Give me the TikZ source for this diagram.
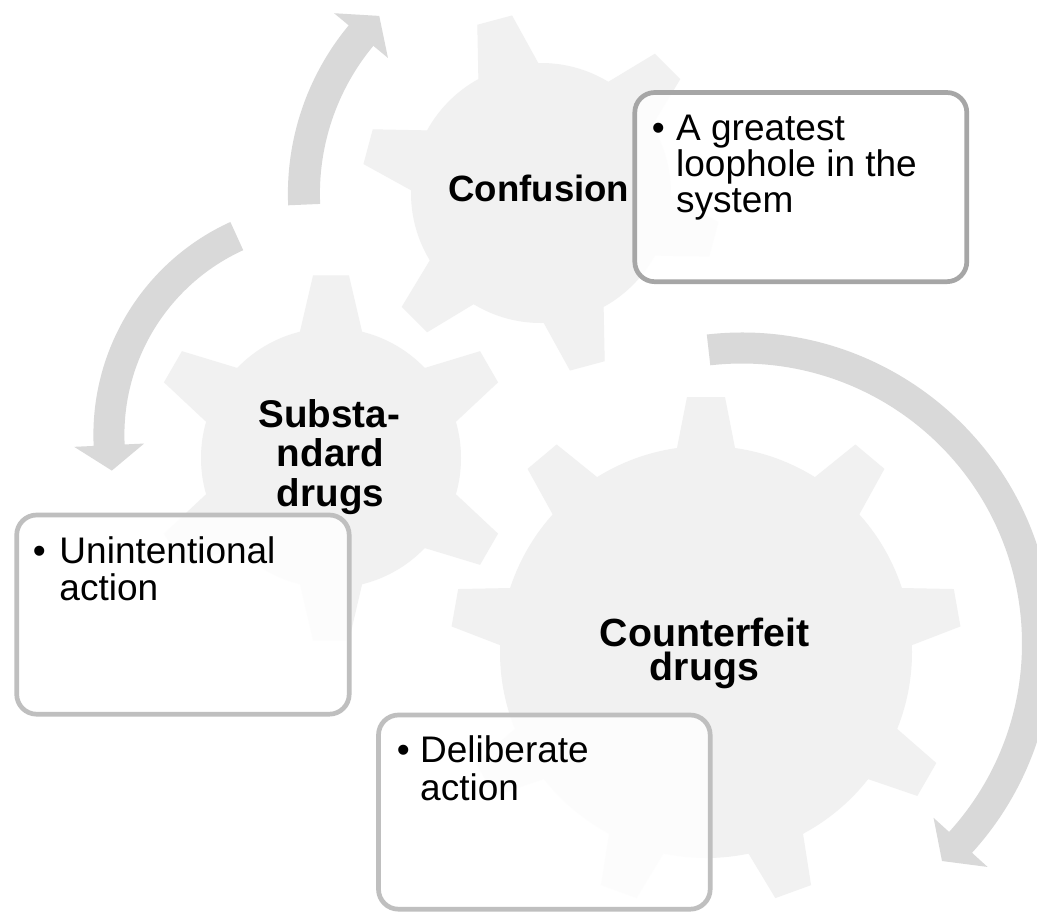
\documentclass[tikz,border=0pt]{standalone}
\usepackage{fontspec}
\setmainfont{Liberation Sans}
\definecolor{gearfill}{RGB}{241,241,241}
\definecolor{arrowfill}{RGB}{217,217,217}
\definecolor{boxdark}{RGB}{166,166,166}
\definecolor{boxlight}{RGB}{191,191,191}
\tikzset{
  gearshape/.style={fill=gearfill},
  arrowshape/.style={fill=arrowfill},
  txtbox/.style={draw=#1, line width=4.7bp, rounded corners=20bp, fill=white, fill opacity=0.85, inner sep=0, outer sep=0},
  gearlabel/.style={font=\fontsize{#1 bp}{#1 bp}\selectfont\bfseries, inner sep=0, anchor=base},
  bullettext/.style={font=\fontsize{37bp}{36bp}\selectfont, inner sep=0, anchor=base west},
  bulletmark/.style={font=\fontsize{37bp}{36bp}\selectfont, inner sep=0, anchor=base},
}
\begin{document}
\begin{tikzpicture}[x=1bp,y=-1bp]
\path[use as bounding box, clip] (0,0) rectangle (1037,912);
\fill[white] (0,0) rectangle (1037,912);

% ---- gears ----
% Counterfeit (large, 9 teeth)
\begin{scope}[shift={(706,652)}]
  \fill[gearshape] (0,0) circle[radius=206];
  \foreach \a in {30,70,...,350}
    \fill[gearshape] ({\a-10.15}:186.9) -- ({\a-4.26}:255.7) -- ({\a+4.26}:255.7) -- ({\a+10.15}:186.9) -- cycle;
\end{scope}
% Substandard (6 teeth)
\begin{scope}[shift={(331,458)}]
  \fill[gearshape] (0,0) circle[radius=130];
  \foreach \a in {30,90,...,330}
    \fill[gearshape] ({\a-18.6}:112.1) -- ({\a-5.63}:183.4) -- ({\a+5.63}:183.4) -- ({\a+18.6}:112.1) -- cycle;
\end{scope}
% Confusion (6 teeth)
\begin{scope}[shift={(541,193)}]
  \fill[gearshape] (0,0) circle[radius=130];
  \foreach \a in {15,75,...,315}
    \fill[gearshape] ({\a-18.69}:112.2) -- ({\a-5.74}:179.9) -- ({\a+5.74}:179.9) -- ({\a+18.69}:112.2) -- cycle;
\end{scope}

% ---- circular arrows ----
\fill[arrowshape, shift={(551.6,193.8)}]
  (-182.5:263.7) arc[start angle=-182.5, end angle=-140.3, radius=263.7]
  -- (-140.3:282.7) -- (-134.1:247.7) -- (-140.3:212.7)
  -- (-140.3:231.7) arc[start angle=-140.3, end angle=-182.5, radius=231.7] -- cycle;
\fill[arrowshape, shift={(327.4,434.9)}]
  (-114.5:234) arc[start angle=-114.5, end angle=-182.7, radius=234]
  -- (-182.7:253.5) -- (-189.4:218.5) -- (-182.7:183.5)
  -- (-182.7:203) arc[start angle=-182.7, end angle=-114.5, radius=203] -- cycle;
\fill[arrowshape, shift={(742,643.5)}]
  (-96.5:311) arc[start angle=-96.5, end angle=42.3, radius=311]
  -- (42.3:332) -- (47.4:295.5) -- (42.3:259)
  -- (42.3:280) arc[start angle=42.3, end angle=-96.5, radius=280] -- cycle;

% ---- gear labels ----
\node[gearlabel=36.6] (conf) at (538.8,201.7) {Confusion};
\node[gearlabel=38.6] (subA) at (329.2,427.3) {Substa-};
\node[gearlabel=38.6] (subB) at (330.5,466) {ndard};
\node[gearlabel=38.6] (subC) at (330.5,506) {drugs};
\node[gearlabel=39.3] (cntA) at (704.7,646.7) {Counterfeit};
\node[gearlabel=39.3] (cntB) at (704.3,680) {drugs};

% ---- text boxes ----
\node[txtbox=boxdark, minimum width=332bp, minimum height=189.2bp] (boxA) at (800.8,187.1) {};
\node[txtbox=boxlight, minimum width=332.5bp, minimum height=199.2bp] (boxB) at (182.95,614.6) {};
\node[txtbox=boxlight, minimum width=331.7bp, minimum height=194.2bp] (boxC) at (544.35,812.1) {};

\node[bulletmark] (bA) at (658.3,140) {\textbullet};
\node[bullettext] (tA1) at (676,140) {A greatest};
\node[bullettext] (tA2) at (676,176) {loophole in the};
\node[bullettext] (tA3) at (676,212) {system};

\node[bulletmark] (bB) at (39.3,563.3) {\textbullet};
\node[bullettext] (tB1) at (59.3,563.3) {Unintentional};
\node[bullettext] (tB2) at (59.3,600) {action};

\node[bulletmark] (bC) at (403.3,762.7) {\textbullet};
\node[bullettext] (tC1) at (420,762.7) {Deliberate};
\node[bullettext] (tC2) at (420,800) {action};
\end{tikzpicture}
\end{document}
